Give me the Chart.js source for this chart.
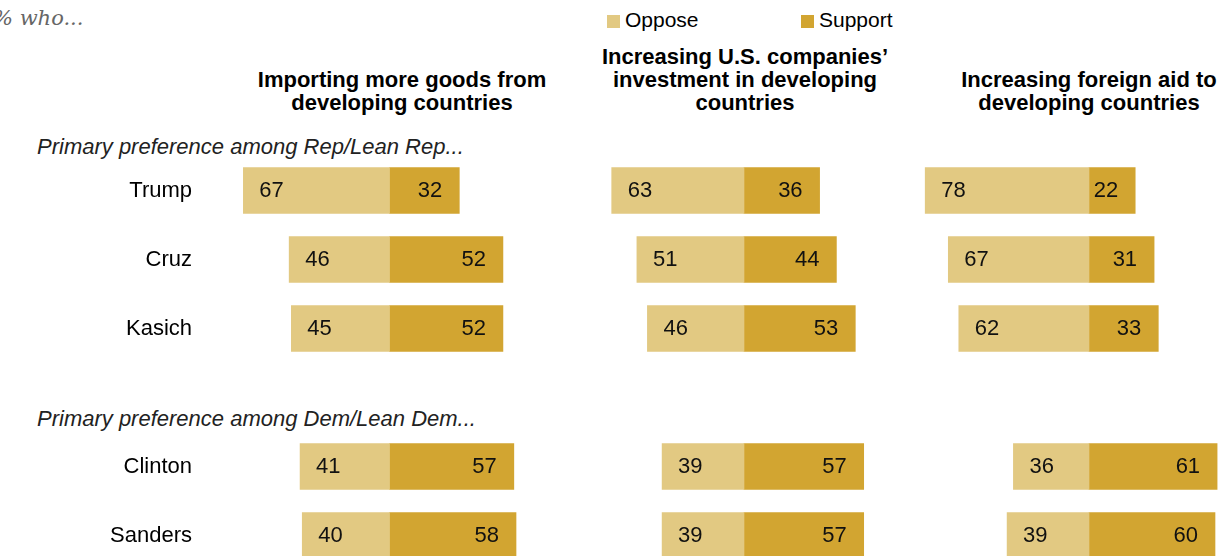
<!DOCTYPE html>
<html>
<head>
<meta charset="utf-8">
<script src="https://cdn.jsdelivr.net/npm/chart.js@4.4.1/dist/chart.umd.min.js"></script>
<style>
  html, body { margin: 0; padding: 0; background: #fff; }
  body { position: relative; width: 1223px; height: 556px; overflow: hidden; font-family: "Liberation Sans", Arial, sans-serif; color: #000; }
  .abs { position: absolute; white-space: nowrap; }
  .who { font-family: "DejaVu Serif", Georgia, serif; font-style: italic; font-size: 21px; color: #666; left: -7px; top: 6px; line-height: 24px; }
  .head { font-weight: bold; font-size: 22px; line-height: 23px; text-align: center; width: 400px; }
  .group { font-style: italic; font-size: 22px; line-height: 22px; color: #222; left: 37px; }
  .leg { font-size: 21px; line-height: 24px; top: 8px; }
  .sw { display: inline-block; width: 13px; height: 13px; margin-right: 5px; vertical-align: -1px; }
  canvas { position: absolute; }
</style>
</head>
<body>
<div class="abs who">% who...</div>

<div class="abs leg" style="left:607px"><span class="sw" style="background:#e2c982"></span>Oppose</div>
<div class="abs leg" style="left:801px"><span class="sw" style="background:#d2a531"></span>Support</div>

<div class="abs head" style="left:202px; top:68px">Importing more goods from<br>developing countries</div>
<div class="abs head" style="left:545px; top:45px">Increasing U.S. companies’<br>investment in developing<br>countries</div>
<div class="abs head" style="left:889px; top:68px">Increasing foreign aid to<br>developing countries</div>

<div class="abs group" style="top:136px">Primary preference among Rep/Lean Rep...</div>
<div class="abs group" style="top:408px">Primary preference among Dem/Lean Dem...</div>

<canvas id="c1" width="564" height="414" style="left:0px; top:156px"></canvas>
<canvas id="c2" width="336" height="414" style="left:576px; top:156px"></canvas>
<canvas id="c3" width="336" height="414" style="left:921px; top:156px"></canvas>

<script>
// rows (blank slot separates Rep and Dem groups)
const candidates = ['Trump', 'Cruz', 'Kasich', '', 'Clinton', 'Sanders'];

const importOppose  = [67, 46, 45, null, 41, 40];
const importSupport = [32, 52, 52, null, 57, 58];

const investOppose  = [63, 51, 46, null, 39, 39];
const investSupport = [36, 44, 53, null, 57, 57];

const aidOppose  = [78, 67, 62, null, 36, 39];
const aidSupport = [22, 31, 33, null, 61, 60];

const OPPOSE_COLOR = '#e2c982';
const SUPPORT_COLOR = '#d2a531';
const FONT = '"Liberation Sans", Arial, sans-serif';

// write numbers inside the bar segments
const barLabels = {
    id: 'barLabels',
    afterDatasetsDraw(chart) {
        const ctx = chart.ctx;
        ctx.save();
        ctx.font = '22px ' + FONT;
        ctx.fillStyle = '#111';
        ctx.textBaseline = 'middle';
        chart.data.datasets.forEach((ds, i) => {
            const meta = chart.getDatasetMeta(i);
            meta.data.forEach((bar, j) => {
                const v = ds.data[j];
                if (v == null) return;
                const left = Math.min(bar.x, bar.base);
                const right = Math.max(bar.x, bar.base);
                if (ds.side === 'oppose') {
                    ctx.textAlign = 'left';
                    ctx.fillText(Math.abs(v), left + 16, bar.y);
                } else {
                    ctx.textAlign = 'right';
                    ctx.fillText(v, right - 17, bar.y);
                }
            });
        });
        ctx.restore();
    }
};

// candidate names, placed on the category scale of the first panel
const rowLabels = {
    id: 'rowLabels',
    afterDraw(chart) {
        const ctx = chart.ctx;
        const y = chart.scales.y;
        ctx.save();
        ctx.font = '22px ' + FONT;
        ctx.fillStyle = '#000';
        ctx.textAlign = 'right';
        ctx.textBaseline = 'middle';
        chart.data.labels.forEach((name, i) => {
            if (name) ctx.fillText(name, 192, y.getPixelForValue(i));
        });
        ctx.restore();
    }
};

function makePanel(id, oppose, support, withNames) {
    return new Chart(document.getElementById(id), {
        type: 'bar',
        data: {
            labels: candidates,
            datasets: [
                {
                    label: 'Oppose',
                    side: 'oppose',
                    data: oppose.map(v => v == null ? null : -v),
                    backgroundColor: OPPOSE_COLOR,
                    barThickness: 46
                },
                {
                    label: 'Support',
                    side: 'support',
                    data: support,
                    backgroundColor: SUPPORT_COLOR,
                    barThickness: 46
                }
            ]
        },
        options: {
            indexAxis: 'y',
            responsive: false,
            animation: false,
            layout: { padding: { left: withNames ? 215 : 0, right: 0, top: 0, bottom: 0 } },
            scales: {
                x: { stacked: true, display: false, min: -80, max: 80 },
                y: { stacked: true, display: false }
            },
            plugins: {
                legend: { display: false },
                tooltip: { enabled: false }
            }
        },
        plugins: withNames ? [barLabels, rowLabels] : [barLabels]
    });
}

makePanel('c1', importOppose, importSupport, true);
makePanel('c2', investOppose, investSupport, false);
makePanel('c3', aidOppose, aidSupport, false);
</script>
</body>
</html>
